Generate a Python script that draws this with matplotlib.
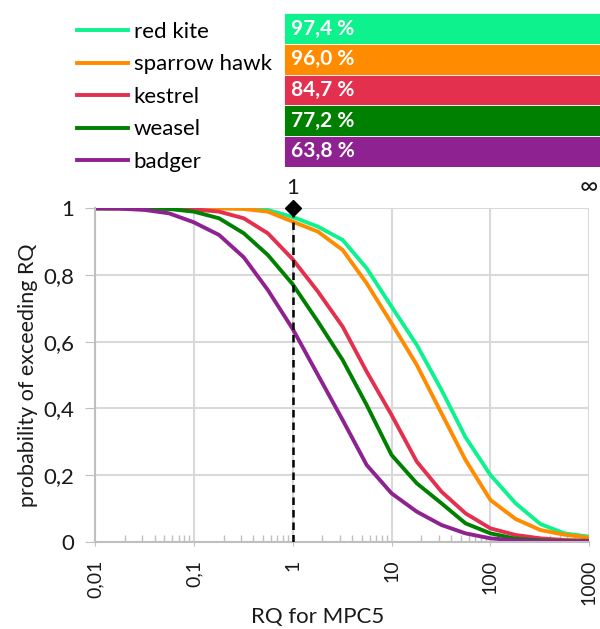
import matplotlib.pyplot as plt
from matplotlib.lines import Line2D
from matplotlib.ticker import LogLocator, NullFormatter

plt.rcParams['font.family'] = ['Lato', 'DejaVu Sans']

# RQ values (log spaced, quarter decades)
rq = [0.01, 0.018, 0.032, 0.056, 0.1, 0.18, 0.32, 0.56, 1, 1.8, 3.2, 5.6,
      10, 18, 32, 56, 100, 180, 320, 560, 1000]

# probability of exceeding RQ, one list per species
red_kite = [1, 1, 1, 1, 1, 1, 1, 0.995, 0.974, 0.945, 0.905, 0.82,
            0.705, 0.59, 0.455, 0.313, 0.2, 0.115, 0.053, 0.025, 0.015]
sparrow_hawk = [1, 1, 1, 1, 1, 1, 0.998, 0.99, 0.96, 0.93, 0.875, 0.775,
                0.655, 0.53, 0.385, 0.245, 0.125, 0.068, 0.035, 0.021, 0.012]
kestrel = [1, 1, 1, 0.999, 0.997, 0.99, 0.97, 0.925, 0.847, 0.75, 0.645, 0.51,
           0.38, 0.24, 0.15, 0.085, 0.04, 0.02, 0.01, 0.005, 0.003]
weasel = [1, 1, 0.999, 0.998, 0.99, 0.97, 0.925, 0.86, 0.772, 0.66, 0.545, 0.41,
          0.26, 0.175, 0.115, 0.055, 0.025, 0.009, 0.004, 0.002, 0.001]
badger = [1, 0.999, 0.995, 0.985, 0.958, 0.92, 0.853, 0.755, 0.638, 0.5, 0.365, 0.23,
          0.145, 0.09, 0.05, 0.025, 0.01, 0.004, 0.002, 0.001, 0]

species = ['red kite', 'sparrow hawk', 'kestrel', 'weasel', 'badger']
curves = [red_kite, sparrow_hawk, kestrel, weasel, badger]
colors = ['#0EF28E', '#FF8C00', '#E3304F', '#008000', '#8E2290']
pct_exceeding = [97.4, 96.0, 84.7, 77.2, 63.8]

x_ticks = [0.01, 0.1, 1, 10, 100, 1000]
x_ticklabels = ['0,01', '0,1', '1', '10', '100', '1000']
y_ticks = [0, 0.2, 0.4, 0.6, 0.8, 1]
y_ticklabels = ['0', '0,2', '0,4', '0,6', '0,8', '1']
threshold = 1

W, H = 600, 629
fig = plt.figure(figsize=(W / 100, H / 100), dpi=100)
ax = fig.add_axes([95 / W, 1 - 541.7 / H, 494.3 / W, 333.4 / H])

for name, vals, col in zip(species, curves, colors):
    ax.plot(rq, vals, color=col, lw=2.8, label=name, solid_joinstyle='round')

ax.vlines(threshold, 0, 1, colors='black', linestyles=(0, (3, 2)), lw=1.8, zorder=5)
ax.plot([threshold], [1], marker='D', color='black', ms=8, clip_on=False, zorder=6)

ax.set_xscale('log')
ax.set_xlim(0.01, 1000)
ax.set_ylim(0, 1)
ax.set_xticks(x_ticks)
ax.set_xticklabels(x_ticklabels, rotation=90)
ax.xaxis.set_minor_locator(LogLocator(base=10, subs=range(2, 10)))
ax.xaxis.set_minor_formatter(NullFormatter())
ax.set_yticks(y_ticks)
ax.set_yticklabels(y_ticklabels)
ax.tick_params(axis='x', which='major', length=3, color='#bfbfbf', pad=10,
               labelsize=14, labelcolor='#1a1a1a')
ax.tick_params(axis='x', which='minor', direction='in', length=5, color='#bfbfbf', width=1)
ax.tick_params(axis='y', length=7, color='#bfbfbf', pad=8,
               labelsize=16, labelcolor='#1a1a1a')
ax.grid(True, which='major', color='#d9d9d9', lw=1.5)
ax.set_axisbelow(True)
for s in ['top', 'right']:
    ax.spines[s].set_visible(False)
for s in ['left', 'bottom']:
    ax.spines[s].set_color('#bfbfbf')
    ax.spines[s].set_linewidth(1.5)

ax.set_ylabel('probability of exceeding RQ', fontsize=15.5, color='#1a1a1a', labelpad=4)
fig.text(318 / W, 1 - 617 / H, 'RQ for MPC5', fontsize=16, color='#1a1a1a',
         ha='center', va='center')

ax.text(threshold, 1.03, '1', transform=ax.get_xaxis_transform(), ha='center',
        va='bottom', fontsize=16, color='#1a1a1a')
ax.text(1000, 1.03, '\u221e', transform=ax.get_xaxis_transform(), ha='center',
        va='bottom', fontsize=18, color='#1a1a1a')

# legend at top left
handles = [Line2D([], [], color=c, lw=2.8) for c in colors]
fig.legend(handles, species, loc='upper left', bbox_to_anchor=(77 / W, 1 - 22 / H),
           frameon=False, fontsize=16, handlelength=2.3, handletextpad=0.25,
           labelspacing=0.56, borderpad=0, borderaxespad=0)

# percentage bars at top right
axb = fig.add_axes([284 / W, 1 - 166.7 / H, 316 / W, 153.4 / H])
ypos = list(range(len(species)))
axb.barh(ypos, [100] * len(species), height=1, color=colors, edgecolor='white', lw=0.6)
for y, v in zip(ypos, pct_exceeding):
    axb.text(2.2, y, f'{v:.1f}'.replace('.', ',') + ' %', color='white',
             fontsize=15, fontweight='bold', va='center', ha='left')
axb.set_xlim(0, 100)
axb.set_ylim(len(species) - 0.5, -0.5)
axb.axis('off')

fig.savefig('out.png', dpi=100)
